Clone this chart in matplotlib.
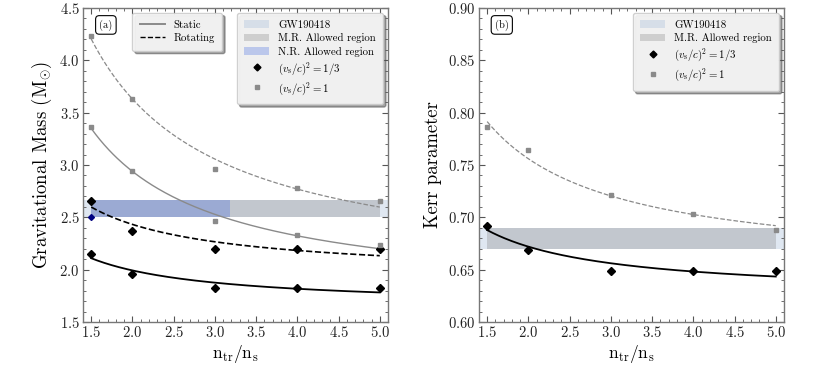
import matplotlib as mpl
import matplotlib.pyplot as plt
import numpy as np
from matplotlib.lines import Line2D
from matplotlib.patches import Patch
from matplotlib.ticker import MultipleLocator

mpl.rcParams.update({
    "font.family": "serif",
    "font.serif": ["cmr10", "DejaVu Serif"],
    "mathtext.fontset": "cm",
    "axes.formatter.use_mathtext": True,
    "font.size": 9.0,
    "axes.edgecolor": "#777777",
    "axes.linewidth": 1.0,
    "xtick.direction": "in",
    "ytick.direction": "in",
    "xtick.top": True,
    "ytick.right": True,
    "xtick.color": "#555555",
    "ytick.color": "#555555",
    "xtick.labelcolor": "#222222",
    "ytick.labelcolor": "#222222",
    "xtick.labelsize": 10.5,
    "ytick.labelsize": 10.5,
    "xtick.major.size": 4,
    "ytick.major.size": 4,
    "xtick.minor.size": 2,
    "ytick.minor.size": 2,
    "xtick.major.pad": 2.5,
    "ytick.major.pad": 2.5,
    "xtick.minor.visible": True,
    "ytick.minor.visible": True,
})

# density ratio n_tr/n_s
ratio = [1.5, 2.0, 3.0, 4.0, 5.0]

# panel (a): gravitational mass [M_sun]
mass_cs13_static = [2.147, 1.955, 1.825, 1.825, 1.825]
mass_cs13_rot = [2.656, 2.372, 2.194, 2.194, 2.197]
mass_cs1_static = [3.365, 2.94, 2.465, 2.334, 2.235]
mass_cs1_rot = [4.23, 3.63, 2.96, 2.777, 2.66]

# panel (b): Kerr parameter
kerr_cs13 = [0.692, 0.6685, 0.649, 0.649, 0.649]
kerr_cs1 = [0.786, 0.764, 0.721, 0.7035, 0.688]

# allowed bands
gw_mass = (2.50, 2.67)
gw_kerr = (0.67, 0.69)
mr_range = (1.5, 5.0)
nr_range = (1.5, 3.18)
nr_point = (1.5, 2.50)

GW_COLOR = "lightsteelblue"
GRAY = "#8a8a8a"


def fit_curve(x, y):
    # least squares y = a + b/x
    b, a = np.polyfit(1.0 / np.asarray(x), np.asarray(y), 1)
    xs = np.linspace(min(x), max(x), 200)
    return xs, a + b / xs


def panel_label(ax, text):
    ax.text(0.075, 0.946, text, transform=ax.transAxes, ha="center", va="center",
            fontsize=7.5, bbox=dict(boxstyle="round,pad=0.35", fc="white", ec="black", lw=0.8))


def style_axes(ax):
    ax.xaxis.set_major_locator(MultipleLocator(0.5))
    ax.xaxis.set_minor_locator(MultipleLocator(0.1))
    ax.set_xlim(1.4, 5.1)
    ax.set_xlabel(r"$\mathrm{n_{tr}/n_s}$", fontsize=12.5, labelpad=2)


legend_kw = dict(fontsize=7.8, shadow=True, fancybox=True, framealpha=0.9,
                 edgecolor="#cccccc", facecolor="#f9f9f9", handlelength=2.3,
                 handletextpad=0.8, borderpad=0.7, labelspacing=0.3, borderaxespad=0.45)

fig = plt.figure(figsize=(8.3, 3.69), dpi=100)
ax1 = fig.add_axes([0.100, 0.1274, 0.3675, 0.851])
ax2 = fig.add_axes([0.577, 0.1274, 0.3676, 0.851])

# ---- panel (a)
ax1.axhspan(*gw_mass, color=GW_COLOR, alpha=0.4, lw=0)
ax1.fill_between(mr_range, gw_mass[0], gw_mass[1], color="gray", alpha=0.3, lw=0)
ax1.fill_between(nr_range, gw_mass[0], gw_mass[1], color="royalblue", alpha=0.3, lw=0)
ax1.plot(*nr_point, "D", color="navy", ms=3)

for y, ls, col, lw in [(mass_cs13_static, "-", "black", 1.3),
                       (mass_cs13_rot, "--", "black", 1.2),
                       (mass_cs1_static, "-", GRAY, 1.0),
                       (mass_cs1_rot, "--", GRAY, 0.9)]:
    xs, ys = fit_curve(ratio, y)
    ax1.plot(xs, ys, ls=ls, color=col, lw=lw)

for y in (mass_cs13_static, mass_cs13_rot):
    ax1.plot(ratio, y, "D", color="black", ms=4.5, ls="none")
for y in (mass_cs1_static, mass_cs1_rot):
    ax1.plot(ratio, y, "s", color=GRAY, ms=3.5, ls="none")

ax1.set_ylim(1.5, 4.5)
ax1.yaxis.set_major_locator(MultipleLocator(0.5))
ax1.yaxis.set_minor_locator(MultipleLocator(0.1))
ax1.set_ylabel(r"Gravitational Mass (M$_{\odot}$)", fontsize=13.5)
style_axes(ax1)
panel_label(ax1, "(a)")

handles_a = [
    Patch(color=GW_COLOR, alpha=0.4, lw=0),
    Patch(color="gray", alpha=0.3, lw=0),
    Patch(color="royalblue", alpha=0.3, lw=0),
    Line2D([], [], marker="D", color="black", ls="none", ms=3.5),
    Line2D([], [], marker="s", color=GRAY, ls="none", ms=2.8),
]
labels_a = ["GW190418", "M.R. Allowed region", "N.R. Allowed region",
            r"$(v_{\rm s}/c)^2 = 1/3$", r"$(v_{\rm s}/c)^2 = 1$"]
leg = ax1.legend(handles_a, labels_a, loc="upper right", **legend_kw)
ax1.add_artist(leg)
style_handles = [Line2D([], [], color=GRAY, lw=1.4), Line2D([], [], color="black", ls="--", lw=1.0)]
ax1.legend(style_handles, ["Static", "Rotating"], loc="upper left",
           bbox_to_anchor=(0.145, 1.0), **legend_kw)

# ---- panel (b)
ax2.axhspan(*gw_kerr, color=GW_COLOR, alpha=0.4, lw=0)
ax2.fill_between(mr_range, gw_kerr[0], gw_kerr[1], color="gray", alpha=0.3, lw=0)

xs, ys = fit_curve(ratio, kerr_cs13)
ax2.plot(xs, ys, "-", color="black", lw=1.3)
xs, ys = fit_curve(ratio, kerr_cs1)
ax2.plot(xs, ys, "--", color=GRAY, lw=0.9)
ax2.plot(ratio, kerr_cs13, "D", color="black", ms=4.5, ls="none")
ax2.plot(ratio, kerr_cs1, "s", color=GRAY, ms=3.5, ls="none")

ax2.set_ylim(0.60, 0.90)
ax2.yaxis.set_major_locator(MultipleLocator(0.05))
ax2.yaxis.set_minor_locator(MultipleLocator(0.01))
ax2.set_ylabel("Kerr parameter", fontsize=13.5)
style_axes(ax2)
panel_label(ax2, "(b)")

handles_b = [handles_a[0], handles_a[1], handles_a[3], handles_a[4]]
labels_b = [labels_a[0], labels_a[1], labels_a[3], labels_a[4]]
ax2.legend(handles_b, labels_b, loc="upper right", **legend_kw)

fig.savefig("out.png", dpi=100)
